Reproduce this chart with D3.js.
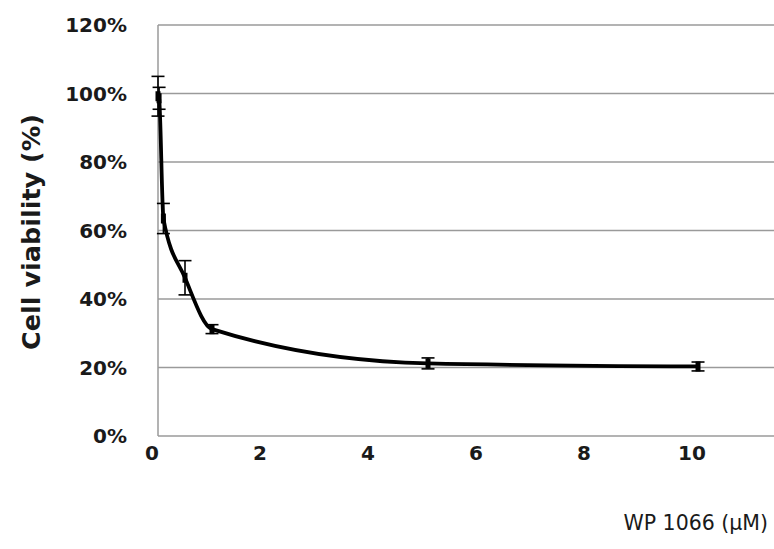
<!DOCTYPE html>
<html>
<head>
<meta charset="utf-8">
<script src="https://cdn.jsdelivr.net/npm/d3@7"></script>
<style>
  html, body { margin: 0; padding: 0; background: #fff; }
  svg { display: block; }
  text { font-family: "DejaVu Sans", sans-serif; fill: #1a1a1a; }
</style>
</head>
<body>
<svg id="chart" width="774" height="549"></svg>
<script>
// ---- data ----
const concentrations = [0, 0.02, 0.1, 0.5, 1, 5, 10];
const viability = [99.2, 98.6, 63.5, 46.2, 31.2, 21.2, 20.3];
const errors = [5.8, 3.2, 4.4, 5.0, 1.3, 1.6, 1.3];
const yTicks = [0, 20, 40, 60, 80, 100, 120];
const xTicks = [0, 2, 4, 6, 8, 10];
const xTitle = "WP 1066 (μM)";
const yTitle = "Cell viability  (%)";

const svg = d3.select("#chart");
const plotLeft = 158, plotRight = 774, plotTop = 25, plotBottom = 436;

const x = d3.scaleLinear().domain([0, 11.407]).range([plotLeft, plotRight]);
const y = d3.scaleLinear().domain([0, 120]).range([plotBottom, plotTop]);

const data = concentrations.map((c, i) => ({ c, v: viability[i], e: errors[i] }));

// gridlines
svg.append("g")
  .selectAll("line")
  .data(yTicks.filter(t => t > 0))
  .join("line")
  .attr("x1", plotLeft).attr("x2", plotRight)
  .attr("y1", d => y(d)).attr("y2", d => y(d))
  .attr("stroke", "#9a9a9a").attr("stroke-width", 1.5);

// axes lines
svg.append("line").attr("x1", plotLeft).attr("x2", plotLeft).attr("y1", plotTop).attr("y2", plotBottom)
  .attr("stroke", "#9a9a9a").attr("stroke-width", 1.5);
svg.append("line").attr("x1", plotLeft).attr("x2", plotRight).attr("y1", plotBottom).attr("y2", plotBottom)
  .attr("stroke", "#9a9a9a").attr("stroke-width", 1.5);

// y tick labels
svg.append("g")
  .selectAll("text")
  .data(yTicks)
  .join("text")
  .attr("x", 127)
  .attr("y", d => y(d))
  .attr("dy", "0.36em")
  .attr("text-anchor", "end")
  .attr("font-size", 20)
  .attr("font-weight", "bold")
  .text(d => d + "%");

// x tick labels
svg.append("g")
  .selectAll("text")
  .data(xTicks)
  .join("text")
  .attr("x", d => x(d) - 6)
  .attr("y", 453)
  .attr("dy", "0.36em")
  .attr("text-anchor", "middle")
  .attr("font-size", 20)
  .attr("font-weight", "bold")
  .text(d => d);

// titles
svg.append("text")
  .attr("x", 768).attr("y", 523).attr("dy", "0.36em")
  .attr("text-anchor", "end")
  .attr("font-size", 20.5)
  .text(xTitle);

svg.append("text")
  .attr("transform", `translate(31, ${232}) rotate(-90)`)
  .attr("dy", "0.36em")
  .attr("text-anchor", "middle")
  .attr("font-size", 25.5)
  .attr("font-weight", "bold")
  .text(yTitle);

// smoothed curve
const line = d3.line()
  .x(d => x(d.c))
  .y(d => y(d.v))
  .curve(d3.curveMonotoneX);

svg.append("path")
  .datum(data)
  .attr("d", line)
  .attr("fill", "none")
  .attr("stroke", "#000")
  .attr("stroke-width", 3.8)
  .attr("stroke-linejoin", "round");

// error bars
const eb = svg.append("g").attr("stroke", "#000").attr("stroke-width", 1.6);
data.forEach(d => {
  const cx = x(d.c);
  eb.append("line").attr("x1", cx).attr("x2", cx).attr("y1", y(d.v + d.e)).attr("y2", y(d.v - d.e));
  [d.v + d.e, d.v - d.e].forEach(vv => {
    eb.append("line").attr("x1", cx - 6.5).attr("x2", cx + 6.5).attr("y1", y(vv)).attr("y2", y(vv));
  });
});

// markers
svg.append("g")
  .selectAll("rect")
  .data(data)
  .join("rect")
  .attr("x", d => x(d.c) - 2.5)
  .attr("y", d => y(d.v) - 5)
  .attr("width", 5)
  .attr("height", 10)
  .attr("fill", "#000");
</script>
</body>
</html>
